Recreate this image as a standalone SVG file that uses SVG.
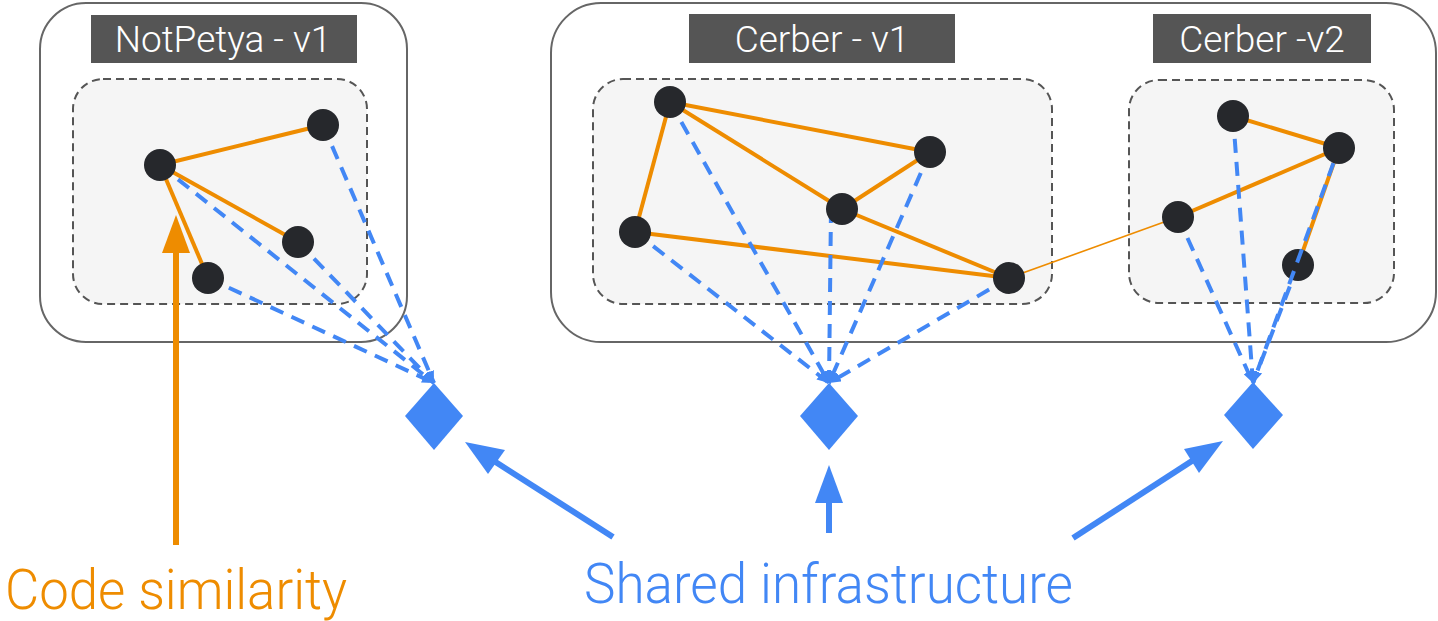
<svg xmlns="http://www.w3.org/2000/svg" width="1438" height="621" viewBox="0 0 1438 621">
  <defs>
    <style>
      .outer { fill: #ffffff; stroke: #666666; stroke-width: 2; }
      .inner { fill: #f5f5f5; stroke: #555555; stroke-width: 2; stroke-dasharray: 8 5; }
      .tag { fill: #555555; }
      .tagtext { fill: #ffffff; font-family: Roboto, "Liberation Sans", sans-serif; font-weight: 300; font-size: 37px; text-anchor: middle; }
      .code { stroke: #EE8C00; stroke-width: 4; fill: none; }
      .thin { stroke: #EE8C00; stroke-width: 1.6; fill: none; }
      .infra { stroke: #4287F5; stroke-width: 4; fill: none; stroke-dasharray: 14 9; marker-end: url(#tip); }
      .node { fill: #26282C; }
      .diamond { fill: #4287F5; }
      .bigblue { stroke: #4287F5; stroke-width: 6; fill: none; }
      .caption { font-family: Roboto, "Liberation Sans", sans-serif; font-weight: 300; font-size: 56px; }
    </style>
    <marker id="tip" viewBox="0 0 12 10" refX="12" refY="5" markerWidth="12" markerHeight="10" markerUnits="userSpaceOnUse" orient="auto">
      <path d="M0,0 L12,5 L0,10 Z" fill="#4287F5"/>
    </marker>
  </defs>

  <!-- containers -->
  <g id="notpetya-v1">
    <rect class="outer" x="40" y="3" width="367" height="339" rx="46"/>
    <rect class="tag" x="91" y="15" width="266" height="48"/>
    <text class="tagtext" x="223" y="52">NotPetya - v1</text>
    <rect class="inner" x="73" y="79" width="294" height="225" rx="30"/>
  </g>
  <g id="cerber">
    <rect class="outer" x="551" y="3" width="885" height="339" rx="50"/>
    <g id="cerber-v1">
      <rect class="tag" x="689" y="14" width="266" height="49"/>
      <text class="tagtext" x="822" y="52">Cerber - v1</text>
      <rect class="inner" x="593" y="79" width="459" height="225" rx="30"/>
    </g>
    <g id="cerber-v2">
      <rect class="tag" x="1153" y="14" width="218" height="49"/>
      <text class="tagtext" x="1262" y="52">Cerber -v2</text>
      <rect class="inner" x="1129" y="80" width="265" height="223" rx="30"/>
    </g>
  </g>

  <!-- connectors -->
  <g id="connectors">
    <!-- code similarity edges -->
    <line class="code" x1="160" y1="165" x2="323" y2="125"/>
    <line class="code" x1="160" y1="165" x2="298" y2="242"/>
    <line class="code" x1="160" y1="165" x2="208" y2="278"/>

    <line class="code" x1="670" y1="102" x2="930" y2="152"/>
    <line class="code" x1="670" y1="102" x2="842" y2="209"/>
    <line class="code" x1="842" y1="209" x2="930" y2="152"/>
    <line class="code" x1="842" y1="209" x2="1009" y2="278"/>
    <line class="code" x1="670" y1="102" x2="635" y2="232"/>
    <line class="code" x1="635" y1="232" x2="1009" y2="278"/>
    <line class="thin" x1="1009" y1="278" x2="1178" y2="217"/>

    <line class="code" x1="1233" y1="116" x2="1339" y2="148"/>
    <line class="code" x1="1178" y1="217" x2="1339" y2="148"/>
    <line class="code" x1="1339" y1="148" x2="1298" y2="265"/>

    <!-- shared infrastructure links -->
    <line class="infra" x1="160" y1="165" x2="434" y2="383"/>
    <line class="infra" x1="323" y1="125" x2="434" y2="383"/>
    <line class="infra" x1="298" y1="242" x2="434" y2="383"/>
    <line class="infra" x1="208" y1="278" x2="434" y2="383"/>

    <line class="infra" x1="670" y1="102" x2="829" y2="383"/>
    <line class="infra" x1="930" y1="152" x2="829" y2="383"/>
    <line class="infra" x1="831" y1="209" x2="829" y2="383"/>
    <line class="infra" x1="635" y1="232" x2="829" y2="383"/>
    <line class="infra" x1="1009" y1="278" x2="829" y2="383"/>

    <line class="infra" x1="1233" y1="116" x2="1253" y2="383"/>
    <line class="infra" x1="1178" y1="217" x2="1253" y2="383"/>
    <line class="infra" x1="1298" y1="265" x2="1253" y2="383"/>

    <!-- callout arrows -->
    <line x1="176" y1="545" x2="176" y2="250" stroke="#EE8C00" stroke-width="6"/>
    <path d="M176,215 L190,253 L162,253 Z" fill="#EE8C00"/>

    <line class="bigblue" x1="613" y1="537" x2="494" y2="461"/>
    <path d="M465,442 L505,450 L488,474 Z" fill="#4287F5"/>

    <line class="bigblue" x1="829" y1="533" x2="829" y2="500"/>
    <path d="M829,465 L843,503 L815,503 Z" fill="#4287F5"/>

    <line class="bigblue" x1="1073" y1="538" x2="1195" y2="459"/>
    <path d="M1223,441 L1199,473 L1184,449 Z" fill="#4287F5"/>
  </g>

  <!-- nodes -->
  <g id="np-nodes">
    <circle class="node" cx="160" cy="165" r="16"/>
    <circle class="node" cx="323" cy="125" r="16"/>
    <circle class="node" cx="298" cy="242" r="16"/>
    <circle class="node" cx="208" cy="278" r="16"/>
  </g>
  <g id="c1-nodes">
    <circle class="node" cx="670" cy="102" r="16"/>
    <circle class="node" cx="930" cy="152" r="16"/>
    <circle class="node" cx="842" cy="209" r="16"/>
    <circle class="node" cx="635" cy="232" r="16"/>
    <circle class="node" cx="1009" cy="278" r="16"/>
  </g>
  <g id="c2-nodes">
    <circle class="node" cx="1233" cy="116" r="16"/>
    <circle class="node" cx="1339" cy="148" r="16"/>
    <circle class="node" cx="1178" cy="217" r="16"/>
    <circle class="node" cx="1298" cy="265" r="16"/>
  </g>
  <!-- this link starts at its node's rim and runs over the lower node -->
  <g id="connectors-top">
    <line class="infra" x1="1333.5" y1="163" x2="1253" y2="383"/>
  </g>

  <!-- infrastructure diamonds -->
  <g id="infra-notpetya"><path class="diamond" d="M434,383 L463,416 L434,450 L405,416 Z"/></g>
  <g id="infra-cerber-v1"><path class="diamond" d="M829,383 L858,416 L829,450 L800,416 Z"/></g>
  <g id="infra-cerber-v2"><path class="diamond" d="M1253,382 L1283,415 L1253,449 L1224,415 Z"/></g>

  <!-- captions -->
  <g id="label-code">
    <text class="caption" x="5" y="609" fill="#EE8C00" textLength="342" lengthAdjust="spacingAndGlyphs">Code similarity</text>
  </g>
  <g id="label-infra">
    <text class="caption" x="584" y="603" fill="#4287F5" textLength="489" lengthAdjust="spacingAndGlyphs">Shared infrastructure</text>
  </g>
</svg>
